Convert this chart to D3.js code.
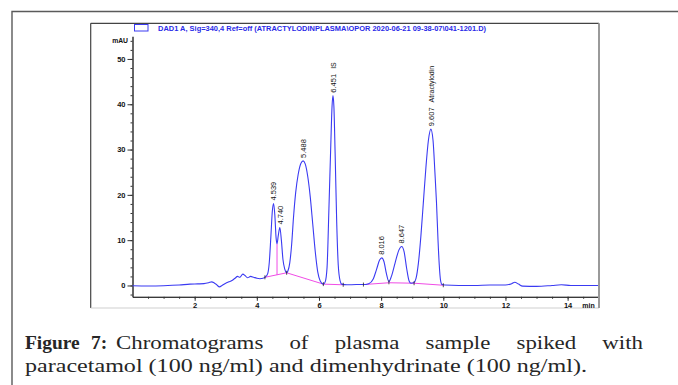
<!DOCTYPE html>
<html>
<head>
<meta charset="utf-8">
<script src="https://cdn.jsdelivr.net/npm/d3@7"></script>
<style>
  html, body { margin: 0; padding: 0; background: #fff; }
  svg { display: block; }
  .caption text { font-family: "Liberation Serif", serif; }
</style>
</head>
<body>
<div id="chart"></div>
<script>
// Trace: retention time (min) / signal (mAU)
const traceTime = [0.0, 0.5, 1.0, 1.5, 1.85, 2.1, 2.3, 2.45, 2.55, 2.62, 2.7, 2.8, 2.88, 3.0, 3.1, 3.2, 3.3, 3.38, 3.45, 3.55, 3.62, 3.7, 3.8, 3.9, 4.0, 4.1, 4.2, 4.28,
  4.35, 4.40, 4.45, 4.50, 4.54, 4.58, 4.62, 4.65, 4.69, 4.74, 4.79, 4.84, 4.90, 4.96,
  5.00, 5.06, 5.12, 5.18, 5.25, 5.33, 5.42, 5.49, 5.56, 5.64, 5.72, 5.80, 5.88, 5.96, 6.04, 6.14,
  6.20, 6.26, 6.32, 6.38, 6.42, 6.45, 6.48, 6.52, 6.57, 6.62, 6.68, 6.73, 6.9, 7.2, 7.43,
  7.6, 7.75, 7.85, 7.95, 8.02, 8.09, 8.17, 8.25, 8.33, 8.45, 8.57, 8.66, 8.74, 8.82, 8.90, 8.96,
  9.05, 9.12, 9.20, 9.28, 9.36, 9.44, 9.52, 9.60, 9.67, 9.73, 9.78, 9.83, 9.87, 9.91, 9.96,
  10.05, 10.5, 11.0, 11.5, 12.0, 12.2, 12.3, 12.42, 12.55, 13.0, 13.5, 13.8, 14.1, 15.0];
const traceMau = [-0.05, -0.1, -0.05, 0.1, 0.3, 0.35, 0.4, 0.6, 0.8, 0.6, 0.2, -0.3, 0.0, 0.5, 0.8, 1.1, 1.6, 2.0, 1.8, 2.5, 2.2, 1.7, 2.0, 1.8, 1.6, 1.5, 1.6, 1.9,
  2.6, 5.0, 10.5, 16.5, 18.1, 15.5, 10.5, 9.2, 11.0, 12.8, 10.0, 5.8, 3.6, 2.8,
  3.2, 5.0, 9.0, 15.0, 20.5, 24.5, 27.0, 27.5, 26.8, 24.0, 19.5, 13.5, 7.5, 3.0, 1.0, 0.3,
  0.8, 4.0, 17.0, 31.0, 39.5, 41.9, 39.5, 29.0, 14.0, 4.5, 1.0, 0.3, 0.15, 0.2, 0.2,
  0.4, 1.5, 3.5, 5.6, 6.1, 5.3, 2.6, 0.85, 2.0, 5.0, 7.8, 8.6, 7.4, 3.8, 1.0, 0.5,
  0.6, 1.5, 5.0, 11.0, 18.5, 26.0, 32.0, 34.5, 32.0, 25.0, 18.5, 10.0, 4.5, 1.2, 0.2,
  0.1, 0.0, 0.0, 0.1, 0.1, 0.4, 0.7, 0.3, -0.15, -0.2, 0.0, 0.15, 0.0, 0.0];

// Labelled peaks
const peakTimes = [4.539, 4.740, 5.488, 6.451, 8.016, 8.647, 9.607];
const peakHeights = [18.1, 12.8, 27.5, 41.9, 6.1, 8.6, 34.5];
const peakNames = ["", "", "", "IS", "", "", "Atractylodin"];

// Integration baselines (null = break)
const baseTime = [4.26, 4.96, 6.14, 6.78, null, 7.43, 8.25, 9.06, 10.0];
const baseMau = [1.8, 2.8, 0.3, 0.15, null, 0.2, 0.6, 0.5, 0.05];
const dropTime = [4.65];
const dropTop = [9.2];
const dropBottom = [2.3];

// Integration event marks
const eventTimes = [4.26, 4.96, 6.14, 6.78, 7.43, 8.25, 9.06, 10.0];
const eventMau = [1.8, 2.8, 0.3, 0.15, 0.2, 0.7, 0.5, 0.05];

// Axis ticks
const xMajorTicks = [2, 4, 6, 8, 10, 12, 14];
const xMinorTicks = d3.range(0.5, 15, 0.5);
const yMajorTicks = [0, 10, 20, 30, 40, 50];
const yMinorTicks = d3.range(-2, 55, 2);

const legendText = "DAD1 A, Sig=340,4 Ref=off (ATRACTYLODINPLASMA\\OPOR 2020-06-21 09-38-07\\041-1201.D)";
const captionLead = ["Figure", "7:"];
const captionWords = ["Chromatograms", "of", "plasma", "sample", "spiked", "with"];
const captionLine2 = "paracetamol (100 ng/ml) and dimenhydrinate (100 ng/ml).";

const W = 678, H = 385;
const plot = {left: 90.7, top: 23.3, right: 599, bottom: 308};
const sans = "'Liberation Sans', Arial, sans-serif";
const blue = "#3a3af2";
const pink = "#f04ce6";

const svg = d3.select("#chart").append("svg")
  .attr("width", W)
  .attr("height", H);

svg.append("rect").attr("width", W).attr("height", H).attr("fill", "#fff");

// Outer figure frame
svg.append("path")
  .attr("d", `M12,${H} L12,11.5 L${W},11.5`)
  .attr("fill", "none")
  .attr("stroke", "#5a5a5a")
  .attr("stroke-width", 1.4);

// Scales
const x = d3.scaleLinear().domain([0, 15]).range([132.5, 598.7]);
const y = d3.scaleLinear().domain([-2.5, 55]).range([296.8, 36.3]);

// Inner plot frame
svg.append("line").attr("x1", plot.left).attr("x2", plot.right).attr("y1", plot.top).attr("y2", plot.top)
  .attr("stroke", "#444").attr("stroke-width", 1.2);
svg.append("line").attr("x1", plot.left).attr("x2", plot.left).attr("y1", plot.top).attr("y2", plot.bottom)
  .attr("stroke", "#444").attr("stroke-width", 1.2);
svg.append("line").attr("x1", plot.left).attr("x2", plot.right).attr("y1", plot.bottom).attr("y2", plot.bottom)
  .attr("stroke", "#cfcfcf").attr("stroke-width", 1);

// Legend
svg.append("rect")
  .attr("x", 134.5).attr("y", 24.5).attr("width", 13.5).attr("height", 6.5)
  .attr("fill", "#fff").attr("stroke", blue).attr("stroke-width", 1);
svg.append("text")
  .attr("x", 158).attr("y", 30.5)
  .attr("textLength", 328)
  .attr("lengthAdjust", "spacingAndGlyphs")
  .style("font-family", sans)
  .style("font-size", "7.5px")
  .style("font-weight", "bold")
  .attr("fill", "#2a2ae8")
  .text(legendText);

// Y axis
const gy = svg.append("g").attr("transform", "translate(132.5,0)");
gy.call(d3.axisLeft(y).tickValues(yMinorTicks).tickSize(2).tickSizeOuter(0).tickFormat(""));
gy.call(g => g.append("g").call(d3.axisLeft(y).tickValues(yMajorTicks).tickSize(5).tickPadding(2).tickSizeOuter(0)));
gy.selectAll("path.domain").attr("stroke", "#333").attr("stroke-width", 1);
gy.selectAll("line").attr("stroke", "#333");
gy.selectAll("text")
  .attr("fill", "#111")
  .style("font-family", sans)
  .style("font-size", "7.5px")
  .style("font-weight", "bold");
gy.append("text")
  .attr("x", -4.5).attr("y", y(54)).attr("dy", "0.32em")
  .attr("text-anchor", "end")
  .attr("fill", "#111")
  .style("font-family", sans)
  .style("font-size", "6.8px")
  .style("font-weight", "bold")
  .text("mAU");

// X axis
const gx = svg.append("g").attr("transform", `translate(0,${y(-2.5)})`);
gx.call(d3.axisBottom(x).tickValues(xMinorTicks).tickSize(2).tickSizeOuter(0).tickFormat(""));
gx.call(g => g.append("g").call(d3.axisBottom(x).tickValues(xMajorTicks).tickSize(4).tickPadding(2).tickSizeOuter(0)));
gx.selectAll("path.domain").attr("stroke", "#333").attr("stroke-width", 1);
gx.selectAll("line").attr("stroke", "#333");
gx.selectAll("text")
  .attr("fill", "#111")
  .style("font-family", sans)
  .style("font-size", "7.5px")
  .style("font-weight", "bold");
gx.append("text")
  .attr("x", 588.5).attr("y", 6).attr("dy", "0.71em")
  .attr("fill", "#111")
  .style("font-family", sans)
  .style("font-size", "7px")
  .style("font-weight", "bold")
  .text("min");

// Integration baselines
const baseLine = d3.line()
  .defined((d, i) => baseTime[i] !== null)
  .x((d, i) => x(baseTime[i]))
  .y((d, i) => y(baseMau[i]));
svg.append("path")
  .attr("d", baseLine(baseTime))
  .attr("fill", "none")
  .attr("stroke", pink)
  .attr("stroke-width", 1);
svg.selectAll("line.drop")
  .data(dropTime)
  .join("line")
  .attr("class", "drop")
  .attr("x1", d => x(d)).attr("x2", d => x(d))
  .attr("y1", (d, i) => y(dropTop[i])).attr("y2", (d, i) => y(dropBottom[i]))
  .attr("stroke", pink)
  .attr("stroke-width", 1);

// Chromatogram trace
const traceLine = d3.line()
  .x((d, i) => x(traceTime[i]))
  .y((d, i) => y(traceMau[i]))
  .curve(d3.curveMonotoneX);
svg.append("path")
  .attr("d", traceLine(traceTime))
  .attr("fill", "none")
  .attr("stroke", blue)
  .attr("stroke-width", 1.1);

// Event marks
svg.selectAll("line.event")
  .data(eventTimes)
  .join("line")
  .attr("class", "event")
  .attr("x1", d => x(d)).attr("x2", d => x(d))
  .attr("y1", (d, i) => y(eventMau[i]) - 2).attr("y2", (d, i) => y(eventMau[i]) + 2)
  .attr("stroke", "#222")
  .attr("stroke-width", 0.8);

// Peak labels (rotated)
const labels = svg.append("g");
peakTimes.forEach((t, i) => {
  const px = x(t), py = y(peakHeights[i]) - 3;
  const num = labels.append("text")
    .attr("transform", `translate(${px},${py}) rotate(-90)`)
    .attr("dy", "0.36em")
    .attr("fill", "#111")
    .style("font-family", sans)
    .style("font-size", "7.5px")
    .text(t.toFixed(3));
  if (peakNames[i]) {
    const len = num.node().getComputedTextLength();
    labels.append("text")
      .attr("transform", `translate(${px},${py - len - 5}) rotate(-90)`)
      .attr("dy", "0.36em")
      .attr("fill", "#111")
      .style("font-family", sans)
      .style("font-size", "7px")
      .text(peakNames[i]);
  }
});

// Right plot border (drawn last, covers the "min" label edge)
svg.append("line").attr("x1", plot.right).attr("x2", plot.right).attr("y1", plot.top).attr("y2", plot.bottom)
  .attr("stroke", "#9a9a9a").attr("stroke-width", 2);

// Caption: glyphs a bit wider than Times; line 1 is justified
const cap = svg.append("g")
  .attr("class", "caption")
  .style("font-size", "18px")
  .attr("fill", "#262626");
cap.append("text")
  .attr("x", 25)
  .attr("y", 371.5)
  .attr("textLength", 562)
  .attr("lengthAdjust", "spacingAndGlyphs")
  .text(captionLine2);

const leadX = [25, 91];
captionLead.forEach((w, i) => {
  const t = cap.append("text").attr("x", leadX[i]).attr("y", 348.5)
    .style("font-weight", "bold").text(w);
  t.attr("textLength", t.node().getComputedTextLength() * 1.08).attr("lengthAdjust", "spacingAndGlyphs");
});
const sx = 1.27;
let cx = 116;
const words = captionWords.map(w => cap.append("text").attr("y", 348.5).text(w));
const widths = words.map(t => t.node().getComputedTextLength() * sx);
const gap = (643 - cx - d3.sum(widths)) / (words.length - 1);
words.forEach((t, i) => {
  t.attr("x", cx).attr("textLength", widths[i]).attr("lengthAdjust", "spacingAndGlyphs");
  cx += widths[i] + gap;
});
</script>
</body>
</html>
